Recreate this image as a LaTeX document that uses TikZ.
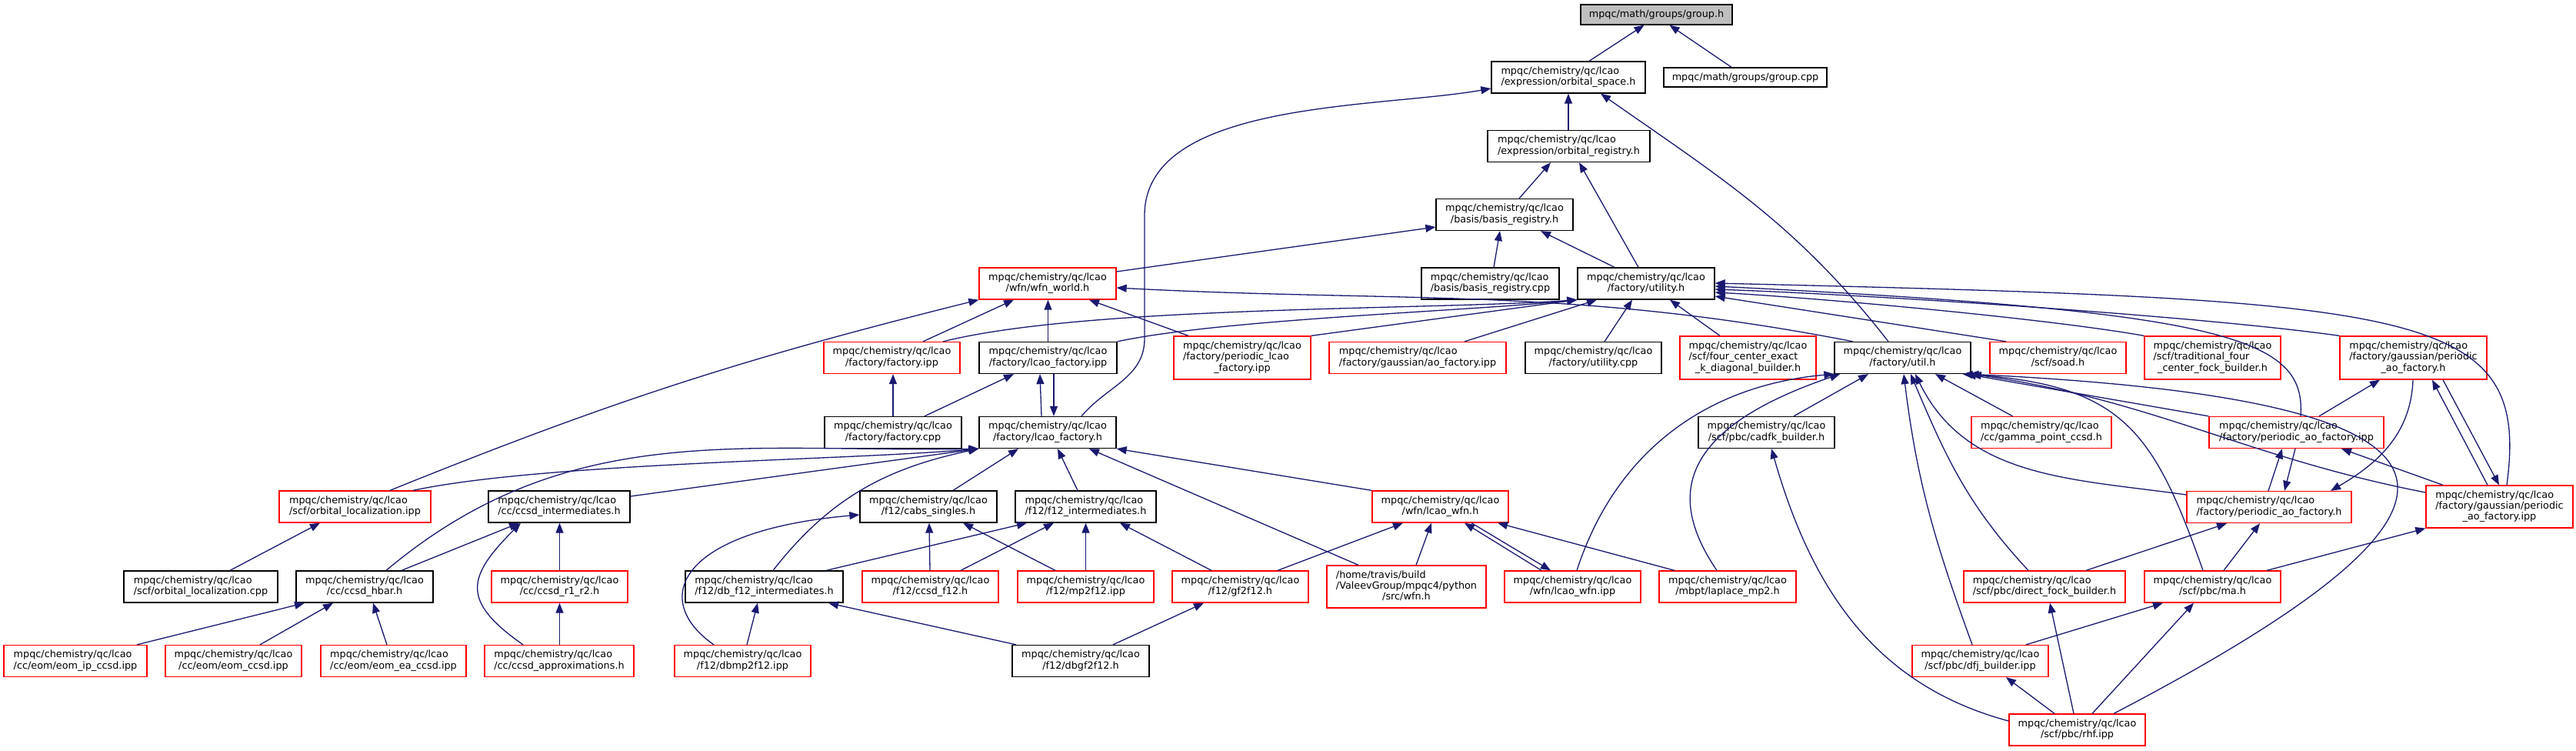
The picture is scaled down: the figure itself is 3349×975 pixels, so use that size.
\documentclass[tikz,border=0pt]{standalone}
\usepackage{fontspec}
\setmainfont{DejaVu Sans}
\usetikzlibrary{arrows.meta}
\definecolor{edgeblue}{RGB}{25,25,112}
\definecolor{curgray}{RGB}{191,191,191}
% file label: upper lines left, last line centred
\newcommand{\fname}[2]{\begin{tabular}{@{}l@{}}#1\\\multicolumn{1}{@{}c@{}}{#2}\end{tabular}}
\newcommand{\lcao}[1]{\fname{mpqc/chemistry/qc/lcao}{#1}}
\begin{document}
\begin{tikzpicture}[x=1pt,y=-1pt,
  fnode/.style={draw=black, fill=white, line width=1.3pt, inner sep=2pt, minimum height=41pt,
    font=\fontsize{12.8}{14.3}\selectfont},
  rnode/.style={fnode, draw=red},
  incl/.style={edgeblue, line width=1.3pt, -{Triangle[length=13pt,width=10pt]}}]
\useasboundingbox (0,0) rectangle (3349,975);
% top rows
\node[fnode, fill=curgray, minimum width=197, minimum height=26] (group) at (2153.5,19) {mpqc/math/groups/group.h};
\node[fnode, minimum width=200] (orbspace) at (2039,100.5) {\lcao{/expression/orbital\_space.h}};
\node[fnode, minimum width=212, minimum height=25] (groupcpp) at (2269,100.5) {mpqc/math/groups/group.cpp};
\node[fnode, minimum width=211] (orbreg) at (2039.5,190) {\lcao{/expression/orbital\_registry.h}};
\node[fnode, minimum width=178] (basisreg) at (1956,279) {\lcao{/basis/basis\_registry.h}};
\node[rnode, minimum width=178] (wfnworld) at (1362,368.5) {\lcao{/wfn/wfn\_world.h}};
\node[fnode, minimum width=179] (basisregcpp) at (1937.5,368.5) {\lcao{/basis/basis\_registry.cpp}};
\node[fnode, minimum width=178] (utilityh) at (2140,368.5) {\lcao{/factory/utility.h}};
% row y=465
\node[rnode, minimum width=177] (factoryipp) at (1159.5,465) {\lcao{/factory/factory.ipp}};
\node[fnode, minimum width=179] (lcaofactipp) at (1362.5,465) {\lcao{/factory/lcao\_factory.ipp}};
\node[rnode, minimum width=178, minimum height=56] (perlcaoipp) at (1615,465) {\fname{mpqc/chemistry/qc/lcao\\/factory/periodic\_lcao}{\_factory.ipp}};
\node[rnode, minimum width=230] (aofactipp) at (1843,465) {\lcao{/factory/gaussian/ao\_factory.ipp}};
\node[fnode, minimum width=177] (utilitycpp) at (2071.5,465) {\lcao{/factory/utility.cpp}};
\node[rnode, minimum width=177, minimum height=56] (fourcenter) at (2272.5,465) {\fname{mpqc/chemistry/qc/lcao\\/scf/four\_center\_exact}{\_k\_diagonal\_builder.h}};
\node[fnode, minimum width=177] (utilh) at (2473.5,465) {\lcao{/factory/util.h}};
\node[rnode, minimum width=177] (soad) at (2675.5,465) {\lcao{/scf/soad.h}};
\node[rnode, minimum width=177, minimum height=56] (tradfock) at (2876.5,465) {\fname{mpqc/chemistry/qc/lcao\\/scf/traditional\_four}{\_center\_fock\_builder.h}};
\node[rnode, minimum width=191, minimum height=56] (gperaoh) at (3137.5,465) {\fname{mpqc/chemistry/qc/lcao\\/factory/gaussian/periodic}{\_ao\_factory.h}};
% row y=562
\node[fnode, minimum width=178] (factorycpp) at (1161,562) {\lcao{/factory/factory.cpp}};
\node[fnode, minimum width=178] (lcaofacth) at (1362,562) {\lcao{/factory/lcao\_factory.h}};
\node[fnode, minimum width=177] (cadfk) at (2296.5,562) {\lcao{/scf/pbc/cadfk\_builder.h}};
\node[rnode, minimum width=182] (gammaccsd) at (2654,562) {\lcao{/cc/gamma\_point\_ccsd.h}};
\node[rnode, minimum width=227] (peraoipp) at (2985.5,562) {\lcao{/factory/periodic\_ao\_factory.ipp}};
% row y=658
\node[rnode, minimum width=197] (orblocipp) at (461.5,658.5) {\lcao{/scf/orbital\_localization.ipp}};
\node[fnode, minimum width=184] (ccsdint) at (727,658.5) {\lcao{/cc/ccsd\_intermediates.h}};
\node[fnode, minimum width=178] (cabs) at (1207,658.5) {\lcao{/f12/cabs\_singles.h}};
\node[fnode, minimum width=183] (f12int) at (1411.5,658.5) {\lcao{/f12/f12\_intermediates.h}};
\node[rnode, minimum width=177] (lcaowfnh) at (1872.5,658.5) {\lcao{/wfn/lcao\_wfn.h}};
\node[rnode, minimum width=214] (peraoh) at (2950,659) {\lcao{/factory/periodic\_ao\_factory.h}};
\node[rnode, minimum width=191, minimum height=55] (gperaoipp) at (3249.5,658.5) {\fname{mpqc/chemistry/qc/lcao\\/factory/gaussian/periodic}{\_ao\_factory.ipp}};
% row y=762
\node[fnode, minimum width=200] (orbloccpp) at (261,762.5) {\lcao{/scf/orbital\_localization.cpp}};
\node[fnode, minimum width=178] (ccsdhbar) at (474,762.5) {\lcao{/cc/ccsd\_hbar.h}};
\node[rnode, minimum width=177] (ccsdr1r2) at (727.5,762.5) {\lcao{/cc/ccsd\_r1\_r2.h}};
\node[fnode, minimum width=205] (dbf12int) at (993.5,762.5) {\lcao{/f12/db\_f12\_intermediates.h}};
\node[rnode, minimum width=177] (ccsdf12) at (1209.5,762.5) {\lcao{/f12/ccsd\_f12.h}};
\node[rnode, minimum width=177] (mp2f12) at (1411.5,762.5) {\lcao{/f12/mp2f12.ipp}};
\node[rnode, minimum width=177] (gf2f12) at (1612.5,762.5) {\lcao{/f12/gf2f12.h}};
\node[rnode, minimum width=207, minimum height=55] (pywfn) at (1828.5,762.5) {\fname{/home/travis/build\\/ValeevGroup/mpqc4/python}{/src/wfn.h}};
\node[rnode, minimum width=177] (lcaowfnipp) at (2044.5,762.5) {\lcao{/wfn/lcao\_wfn.ipp}};
\node[rnode, minimum width=178] (laplace) at (2246,762.5) {\lcao{/mbpt/laplace\_mp2.h}};
\node[rnode, minimum width=210] (directfock) at (2658,762.5) {\lcao{/scf/pbc/direct\_fock\_builder.h}};
\node[rnode, minimum width=177] (mah) at (2876.5,762.5) {\lcao{/scf/pbc/ma.h}};
% row y=859
\node[rnode, minimum width=186] (eomip) at (98,859) {\lcao{/cc/eom/eom\_ip\_ccsd.ipp}};
\node[rnode, minimum width=177] (eomccsd) at (303.5,859) {\lcao{/cc/eom/eom\_ccsd.ipp}};
\node[rnode, minimum width=189] (eomea) at (511.5,859) {\lcao{/cc/eom/eom\_ea\_ccsd.ipp}};
\node[rnode, minimum width=194] (ccsdapprox) at (727,859) {\lcao{/cc/ccsd\_approximations.h}};
\node[rnode, minimum width=177] (dbmp2f12) at (965.5,859) {\lcao{/f12/dbmp2f12.ipp}};
\node[fnode, minimum width=178] (dbgf2f12) at (1405,859) {\lcao{/f12/dbgf2f12.h}};
\node[rnode, minimum width=177] (dfj) at (2574.5,859) {\lcao{/scf/pbc/dfj\_builder.ipp}};
\node[rnode, minimum width=177] (rhf) at (2700.5,948.5) {\lcao{/scf/pbc/rhf.ipp}};
% group.h, orbital_space.h, orbital_registry.h, basis_registry.h
\draw[incl] ([xshift=27]orbspace.north) -- ([xshift=-16]group.south);
\draw[incl] ([xshift=-18]groupcpp.north) -- ([xshift=17]group.south);
\draw[incl] ([xshift=-0.5]orbreg.north) -- (orbspace.south);
\draw[incl] ([xshift=44]lcaofacth.north) to[out=50,in=-90] (1488,440) -- (1488,280) to[out=90,in=190,looseness=0.8] ([yshift=-14.5]orbspace.west);
\draw[incl] ([xshift=-18.5]utilh.north) to[out=128,in=-35] ([xshift=42]orbspace.south);
\draw[incl] ([xshift=19]basisreg.north) -- ([xshift=-23.5]orbreg.south);
\draw[incl] ([xshift=-10]utilityh.north) -- ([xshift=13.5]orbreg.south);
\draw[incl] ([yshift=15.5]wfnworld.east) -- ([yshift=-16]basisreg.west);
\draw[incl] ([xshift=4.5]basisregcpp.north) -- ([xshift=-6]basisreg.south);
\draw[incl] ([xshift=-41]utilityh.north) -- ([xshift=47]basisreg.south);
% wfn_world.h
\draw[incl] ([xshift=-64.5]utilh.north) to[out=169,in=-3] ([yshift=-5.5]wfnworld.east);
\draw[incl] ([xshift=40.5]factoryipp.north) -- ([xshift=-44]wfnworld.south);
\draw[incl] (lcaofactipp.north) -- (lcaofactipp.north |- wfnworld.south);
\draw[incl] ([xshift=-70]perlcaoipp.north) -- ([xshift=54]wfnworld.south);
\draw[incl] ([xshift=45.5]orblocipp.north) to[out=22,in=194] (wfnworld.south west);
% utility.h
\draw[incl] ([xshift=66.5]factoryipp.north) to[out=14,in=184,looseness=0.6] (utilityh.south west);
\draw[incl] (lcaofactipp.north east) to[out=12,in=186,looseness=0.6] (utilityh.south west);
\draw[incl] (perlcaoipp.north east) -- (utilityh.south west);
\draw[incl] ([xshift=61]aofactipp.north) -- ([xshift=-64]utilityh.south);
\draw[incl] ([xshift=14.5]utilitycpp.north) -- ([xshift=-18]utilityh.south);
\draw[incl] ([xshift=-36.5]fourcenter.north) -- ([xshift=31]utilityh.south);
\draw[incl] ([xshift=-67.5]soad.north) -- ([yshift=-16.5]utilityh.east);
\draw[incl] (tradfock.north west) to[out=170,in=-3,looseness=0.6] ([yshift=-11.5]utilityh.east);
\draw[incl] (gperaoh.north west) to[out=172,in=-2,looseness=0.6] ([yshift=-7.5]utilityh.east);
\draw[incl] ([xshift=5.5]peraoipp.north) .. controls (2998,440) and (2900,405) .. ([yshift=-3.5]utilityh.east);
\draw[incl] ([xshift=9.5]gperaoipp.north) .. controls (3290,400) and (3150,390) .. ([yshift=0.5]utilityh.east);
% util.h
\draw[incl] ([xshift=35.5]cadfk.north) -- ([xshift=-44.5]utilh.south);
\draw[incl] ([xshift=5.5]lcaowfnipp.north) to[out=72,in=185] (utilh.south west);
\draw[incl] ([xshift=-14]laplace.north) .. controls (2170,650) and (2175,560) .. ([xshift=-81.5]utilh.south);
\draw[incl] ([xshift=-10.5]dfj.north) to[out=110,in=-83] ([xshift=1.5]utilh.south);
\draw[incl] ([xshift=-21]directfock.north) to[out=133,in=-67] ([xshift=10.5]utilh.south);
\draw[incl] ([xshift=-37.5]gammaccsd.north) -- ([xshift=42.5]utilh.south);
\draw[incl] ([yshift=16]peraoh.west) to[out=172,in=-64] ([xshift=16.5]utilh.south);
\draw[incl] (peraoipp.north west) -- ([xshift=82.5]utilh.south);
\draw[incl] ([yshift=18.5]gperaoipp.west) to[out=169,in=-8] (utilh.south east);
\draw[incl] ([xshift=-12.5]mah.north) .. controls (2800,560) and (2760,500) .. ([xshift=78]utilh.south);
\draw[incl] ([xshift=47.5]rhf.north) .. controls (3280,650) and (3250,520) .. ([xshift=86]utilh.south);
% periodic ao factories
\draw[incl] ([xshift=-1]peraoh.north) -- ([xshift=-18.5]peraoipp.south);
\draw[incl] ([xshift=-1.5]peraoipp.south) -- ([xshift=20]peraoh.north);
\draw[incl] ([xshift=29.5]peraoipp.north) -- ([xshift=-43.5]gperaoh.south);
\draw[incl] ([xshift=-0.5]gperaoh.south) to[out=-92,in=30] ([xshift=80]peraoh.north);
\draw[incl] ([xshift=-15.5]gperaoipp.north) -- ([xshift=24.5]gperaoh.south);
\draw[incl] ([xshift=38.5]gperaoh.south) -- ([xshift=-0.5]gperaoipp.north);
\draw[incl] ([xshift=-73.5]gperaoipp.north) -- ([xshift=58.5]peraoipp.south);
\draw[incl] ([xshift=70.5]mah.north) -- (gperaoipp.south west);
\draw[incl] ([xshift=14.5]mah.north) -- ([xshift=-12]peraoh.south);
\draw[incl] ([xshift=54]directfock.north) -- ([xshift=-55]peraoh.south);
% scf/pbc
\draw[incl] ([xshift=59.5]dfj.north) -- ([xshift=-64.5]mah.south);
\draw[incl] ([xshift=19.5]rhf.north) -- ([xshift=-24.5]mah.south);
\draw[incl] ([xshift=-4.5]rhf.north) -- ([xshift=7]directfock.south);
\draw[incl] ([xshift=-29.5]rhf.north) -- ([xshift=33.5]dfj.south);
\draw[incl] ([yshift=11.5]rhf.west) to[out=165,in=-74] ([xshift=6.5]cadfk.south);
% lcao_factory
\draw[incl] ([xshift=7.5]lcaofactipp.south) -- ([xshift=8]lcaofacth.north);
\draw[incl] ([xshift=-8]lcaofacth.north) -- ([xshift=-10.5]lcaofactipp.south);
\draw[incl] (factorycpp.north) -- (factorycpp.north |- factoryipp.south);
\draw[incl] ([xshift=41]factorycpp.north) -- ([xshift=-44.5]lcaofactipp.south);
\draw[incl] ([xshift=75.5]orblocipp.north) to[out=12,in=185,looseness=0.6] (lcaofacth.south west);
\draw[incl] ([xshift=28]ccsdhbar.north) to[out=40,in=181] (lcaofacth.south west);
\draw[incl] ([yshift=13.5]ccsdint.east) -- (lcaofacth.south west);
\draw[incl] ([xshift=11.5]dbf12int.north) to[out=52,in=192] (lcaofacth.south west);
\draw[incl] ([xshift=32]cabs.north) -- ([xshift=-38]lcaofacth.south);
\draw[incl] ([xshift=-10.5]f12int.north) -- ([xshift=13]lcaofacth.south);
\draw[incl] ([xshift=-62.5]pywfn.north) -- ([xshift=54]lcaofacth.south);
\draw[incl] (lcaowfnh.north west) -- (lcaofacth.south east);
% cc
\draw[incl] ([xshift=38]orbloccpp.north) -- ([xshift=-45.5]orblocipp.south);
\draw[incl] ([xshift=48]ccsdhbar.north) -- ([xshift=-52]ccsdint.south);
\draw[incl] (ccsdr1r2.north) -- (ccsdr1r2.north |- ccsdint.south);
\draw[incl] ([xshift=-47]ccsdapprox.north) to[out=145,in=225,looseness=1.6] ([xshift=-50]ccsdint.south);
\draw[incl] ([xshift=0.5]ccsdapprox.north) -- (ccsdr1r2.south);
\draw[incl] ([xshift=80]eomip.north) -- ([xshift=-78]ccsdhbar.south);
\draw[incl] ([xshift=34.5]eomccsd.north) -- ([xshift=-41]ccsdhbar.south);
\draw[incl] ([xshift=-8.5]eomea.north) -- ([xshift=11]ccsdhbar.south);
% f12
\draw[incl] ([xshift=-0.5]ccsdf12.north) -- ([xshift=1]cabs.south);
\draw[incl] ([xshift=-39.5]mp2f12.north) -- ([xshift=45]cabs.south);
\draw[incl] ([xshift=-37.5]dbmp2f12.north) .. controls (845,780) and (880,690) .. ([yshift=-10.5]cabs.west);
\draw[incl] ([xshift=80.5]dbf12int.north) -- ([xshift=-76.5]f12int.south);
\draw[incl] ([xshift=39.5]ccsdf12.north) -- ([xshift=-41.5]f12int.south);
\draw[incl] (mp2f12.north) -- (f12int.south);
\draw[incl] ([xshift=-37.5]gf2f12.north) -- ([xshift=44.5]f12int.south);
\draw[incl] ([xshift=5.5]dbmp2f12.north) -- ([xshift=-8.5]dbf12int.south);
\draw[incl] ([xshift=-84]dbgf2f12.north) -- ([xshift=83.5]dbf12int.south);
\draw[incl] ([xshift=42]dbgf2f12.north) -- ([xshift=-47.5]gf2f12.south);
% lcao_wfn.h
\draw[incl] ([xshift=48.5]gf2f12.north) -- ([xshift=-48.5]lcaowfnh.south);
\draw[incl] ([xshift=12.5]pywfn.north) -- ([xshift=-11.5]lcaowfnh.south);
\draw[incl] ([xshift=-40.5]lcaowfnipp.north) -- ([xshift=31.5]lcaowfnh.south);
\draw[incl] ([xshift=40.5]lcaowfnh.south) -- ([xshift=-28.5]lcaowfnipp.north);
\draw[incl] ([xshift=-69]laplace.north) -- ([xshift=74.5]lcaowfnh.south);
\end{tikzpicture}
\end{document}
